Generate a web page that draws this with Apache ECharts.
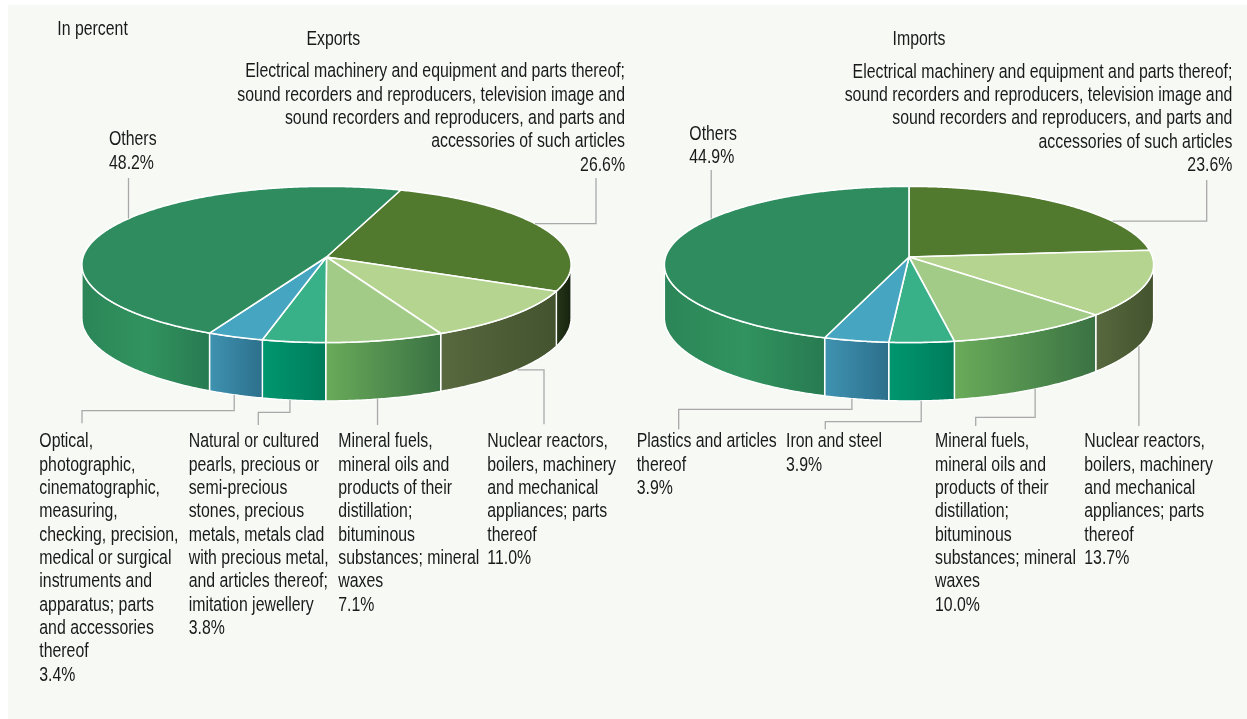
<!DOCTYPE html>
<html>
<head>
<meta charset="utf-8">
<script src="https://cdn.jsdelivr.net/npm/echarts@6/dist/echarts.min.js"></script>
<style>
  html, body { margin: 0; padding: 0; background: #ffffff; }
  #chart { width: 1247px; height: 719px; }
</style>
</head>
<body>
<div id="chart"></div>
<script>
// ---- Data (shares in percent, clockwise from the top seam) ----
const unitNote = 'In percent';
const panelTitles = ['Exports', 'Imports'];

const exportLabels = [
  'Electrical machinery and equipment and parts thereof;\nsound recorders and reproducers, television image and\nsound recorders and reproducers, and parts and\naccessories of such articles',
  'Nuclear reactors,\nboilers, machinery\nand mechanical\nappliances; parts\nthereof',
  'Mineral fuels,\nmineral oils and\nproducts of their\ndistillation;\nbituminous\nsubstances; mineral\nwaxes',
  'Natural or cultured\npearls, precious or\nsemi-precious\nstones, precious\nmetals, metals clad\nwith precious metal,\nand articles thereof;\nimitation jewellery',
  'Optical,\nphotographic,\ncinematographic,\nmeasuring,\nchecking, precision,\nmedical or surgical\ninstruments and\napparatus; parts\nand accessories\nthereof',
  'Others'
];
const exportValues = [26.6, 11.0, 7.1, 3.8, 3.4, 48.2];

const importLabels = [
  'Electrical machinery and equipment and parts thereof;\nsound recorders and reproducers, television image and\nsound recorders and reproducers, and parts and\naccessories of such articles',
  'Nuclear reactors,\nboilers, machinery\nand mechanical\nappliances; parts\nthereof',
  'Mineral fuels,\nmineral oils and\nproducts of their\ndistillation;\nbituminous\nsubstances; mineral\nwaxes',
  'Iron and steel',
  'Plastics and articles\nthereof',
  'Others'
];
const importValues = [23.6, 13.7, 10.0, 3.9, 3.9, 44.9];

// ---- Styling ----
const TOP_COLORS = ['#527a2f', '#b4d48f', '#a1cb87', '#38b088', '#46a5c1', '#2e8c5e'];
// wall gradients, listed left to right
const WALL_STOPS = [
  ['#26381a', '#16210e'],
  ['#58693f', '#42532e'],
  ['#6aab5a', '#3a7243'],
  ['#00976f', '#007c5b'],
  ['#3f93b1', '#2c6f8b'],
  ['#2b8557', '#31935f', '#287a50']
];
const TEXT_COLOR = '#1a1a1a';
const LEADER_COLOR = '#a9a9a9';

// Perspective disc: horizontal radius, vertical radius, wall depth, viewing distance
const GEO = { A: 243.5, B: 77.4, H: 52.8, D: 10.48, cy: 257 };
const SIL = Math.acos(-1 / GEO.D) * 180 / Math.PI;   // visible wall limits
const SIL_RANGE = [SIL, 360 - SIL];

// Condensed face when installed, otherwise a regular face squeezed horizontally
function pickFont() {
  const ctx = document.createElement('canvas').getContext('2d');
  const s = 'checking, precision, mmmm WWW';
  ctx.font = '40px monospace';
  const w0 = ctx.measureText(s).width;
  ctx.font = '40px "Liberation Sans Narrow", monospace';
  const w1 = ctx.measureText(s).width;
  return Math.abs(w0 - w1) > 0.5
    ? { family: '"Liberation Sans Narrow", sans-serif', size: 19.3, sx: 1 }
    : { family: '"Liberation Sans", Arial, sans-serif', size: 19.3, sx: 0.822 };
}
const FONT = pickFont();
const LINE_H = 23.33;

// label placement and leader routing per slice (null keeps previous coordinate)
const exportLayout = [
  { lx: 625, ly: 60.3, align: 'right', frac: 0.458, rim: 0, path: [[596, null], [null, 178]] },
  { lx: 487.3, ly: 430.3, align: 'left', frac: 0.45, rim: 1, path: [[544, null], [null, 424.3]] },
  { lx: 338.3, ly: 430.3, align: 'left', frac: 0.565, rim: 1, path: [[null, 425]] },
  { lx: 188.7, ly: 430.3, align: 'left', frac: 0.56, rim: 1, path: [[null, 412.3], [258.3, null], [null, 425]] },
  { lx: 39.3, ly: 430.3, align: 'left', frac: 0.52, rim: 1, path: [[null, 410.7], [82, null], [null, 423.3]] },
  { lx: 109, ly: 128.3, align: 'left', frac: 0.55, rim: 0, path: [[null, 178]] }
];
const importLayout = [
  { lx: 1232.3, ly: 60.6, align: 'right', frac: 0.718, rim: 0, path: [[1206.7, null], [null, 180]] },
  { lx: 1084.3, ly: 430.3, align: 'left', frac: 0.61, rim: 1, path: [[null, 426]] },
  { lx: 935, ly: 430.3, align: 'left', frac: 0.483, rim: 1, path: [[null, 417.3], [975.7, null], [null, 426]] },
  { lx: 786, ly: 430.3, align: 'left', frac: 0.507, rim: 1, path: [[null, 421.7], [825.3, null], [null, 429.3]] },
  { lx: 636.7, ly: 430.3, align: 'left', frac: 0.567, rim: 1, path: [[null, 409.3], [678.7, null], [null, 429.3]] },
  { lx: 689.3, ly: 122.6, align: 'left', frac: 0.638, rim: 0, path: [[null, 170]] }
];

const pies = [
  { cx: 326.5, start: 19.4, labels: exportLabels, values: exportValues, layout: exportLayout },
  { cx: 909, start: 0, labels: importLabels, values: importValues, layout: importLayout }
];

function proj(cx, deg, h) {
  const t = deg * Math.PI / 180;
  const u = Math.sin(t), v = Math.cos(t);
  const f = GEO.D / (GEO.D + v);
  return [cx + GEO.A * u * f, GEO.cy - GEO.B * v * f + GEO.H * h * f];
}

function arc(cx, a, b, h) {
  const pts = [];
  const step = 0.5;
  for (let d = a; d < b; d += step) pts.push(proj(cx, d, h));
  pts.push(proj(cx, b, h));
  return pts;
}

function makeRenderItem(pie) {
  const total = pie.values.reduce((s, v) => s + v, 0);
  const cum = [];
  pie.values.reduce((s, v, i) => { cum[i] = s; return s + v; }, 0);
  return function (params, api) {
    const i = params.dataIndex;
    const v = api.value(0);
    const a0 = pie.start + 360 * cum[i] / total;
    const a1 = a0 + 360 * v / total;
    const children = [];

    // outer wall, only where it faces the viewer
    const wa = Math.max(a0, SIL_RANGE[0]);
    const wb = Math.min(a1, SIL_RANGE[1]);
    if (wb > wa) {
      const topEdge = arc(pie.cx, wa, wb, 0);
      const botEdge = arc(pie.cx, wa, wb, 1).reverse();
      const stops = WALL_STOPS[i];
      const colorStops = stops.map((c, k) => ({ offset: k / (stops.length - 1), color: c }));
      children.push({
        type: 'polygon',
        shape: { points: topEdge.concat(botEdge) },
        style: {
          fill: new echarts.graphic.LinearGradient(0, 0, 1, 0, colorStops),
          stroke: '#ffffff', lineWidth: 1.4, lineJoin: 'round'
        }
      });
    }

    // top face
    const face = [[pie.cx, GEO.cy]].concat(arc(pie.cx, a0, a1, 0));
    children.push({
      type: 'polygon',
      shape: { points: face },
      style: { fill: TOP_COLORS[i], stroke: '#ffffff', lineWidth: 1.6, lineJoin: 'round' }
    });

    // leader line
    const lay = pie.layout[i];
    const anchor = proj(pie.cx, a0 + lay.frac * (a1 - a0), lay.rim);
    const pts = [anchor];
    lay.path.forEach(p => {
      const prev = pts[pts.length - 1];
      pts.push([p[0] == null ? prev[0] : p[0], p[1] == null ? prev[1] : p[1]]);
    });
    children.push({
      type: 'polyline',
      shape: { points: pts },
      style: { stroke: LEADER_COLOR, lineWidth: 1.3, fill: null }
    });

    // category label with its share
    children.push({
      type: 'text',
      x: lay.lx, y: lay.ly, scaleX: FONT.sx,
      style: {
        text: pie.labels[i] + '\n' + v.toFixed(1) + '%',
        fill: TEXT_COLOR,
        fontFamily: FONT.family, fontSize: FONT.size,
        lineHeight: LINE_H,
        align: lay.align, verticalAlign: 'top'
      }
    });

    return { type: 'group', children };
  };
}

const chart = echarts.init(document.getElementById('chart'), null, { renderer: 'canvas' });

const titleText = (text, x, y, align) => ({
  type: 'text', x, y, scaleX: FONT.sx,
  style: {
    text, fill: TEXT_COLOR, fontFamily: FONT.family, fontSize: FONT.size,
    align, verticalAlign: 'middle'
  }
});

chart.setOption({
  backgroundColor: '#ffffff',
  animation: false,
  graphic: [
    { type: 'rect', z: -10, shape: { x: 8, y: 5, width: 1239, height: 714 }, style: { fill: '#f7f9f5' } },
    titleText(unitNote, 57.3, 29.3, 'left'),
    titleText(panelTitles[0], 333.3, 39.3, 'center'),
    titleText(panelTitles[1], 919, 39.3, 'center')
  ],
  series: pies.map(pie => ({
    type: 'custom',
    coordinateSystem: 'none',
    data: pie.values,
    renderItem: makeRenderItem(pie)
  }))
});
</script>
</body>
</html>
